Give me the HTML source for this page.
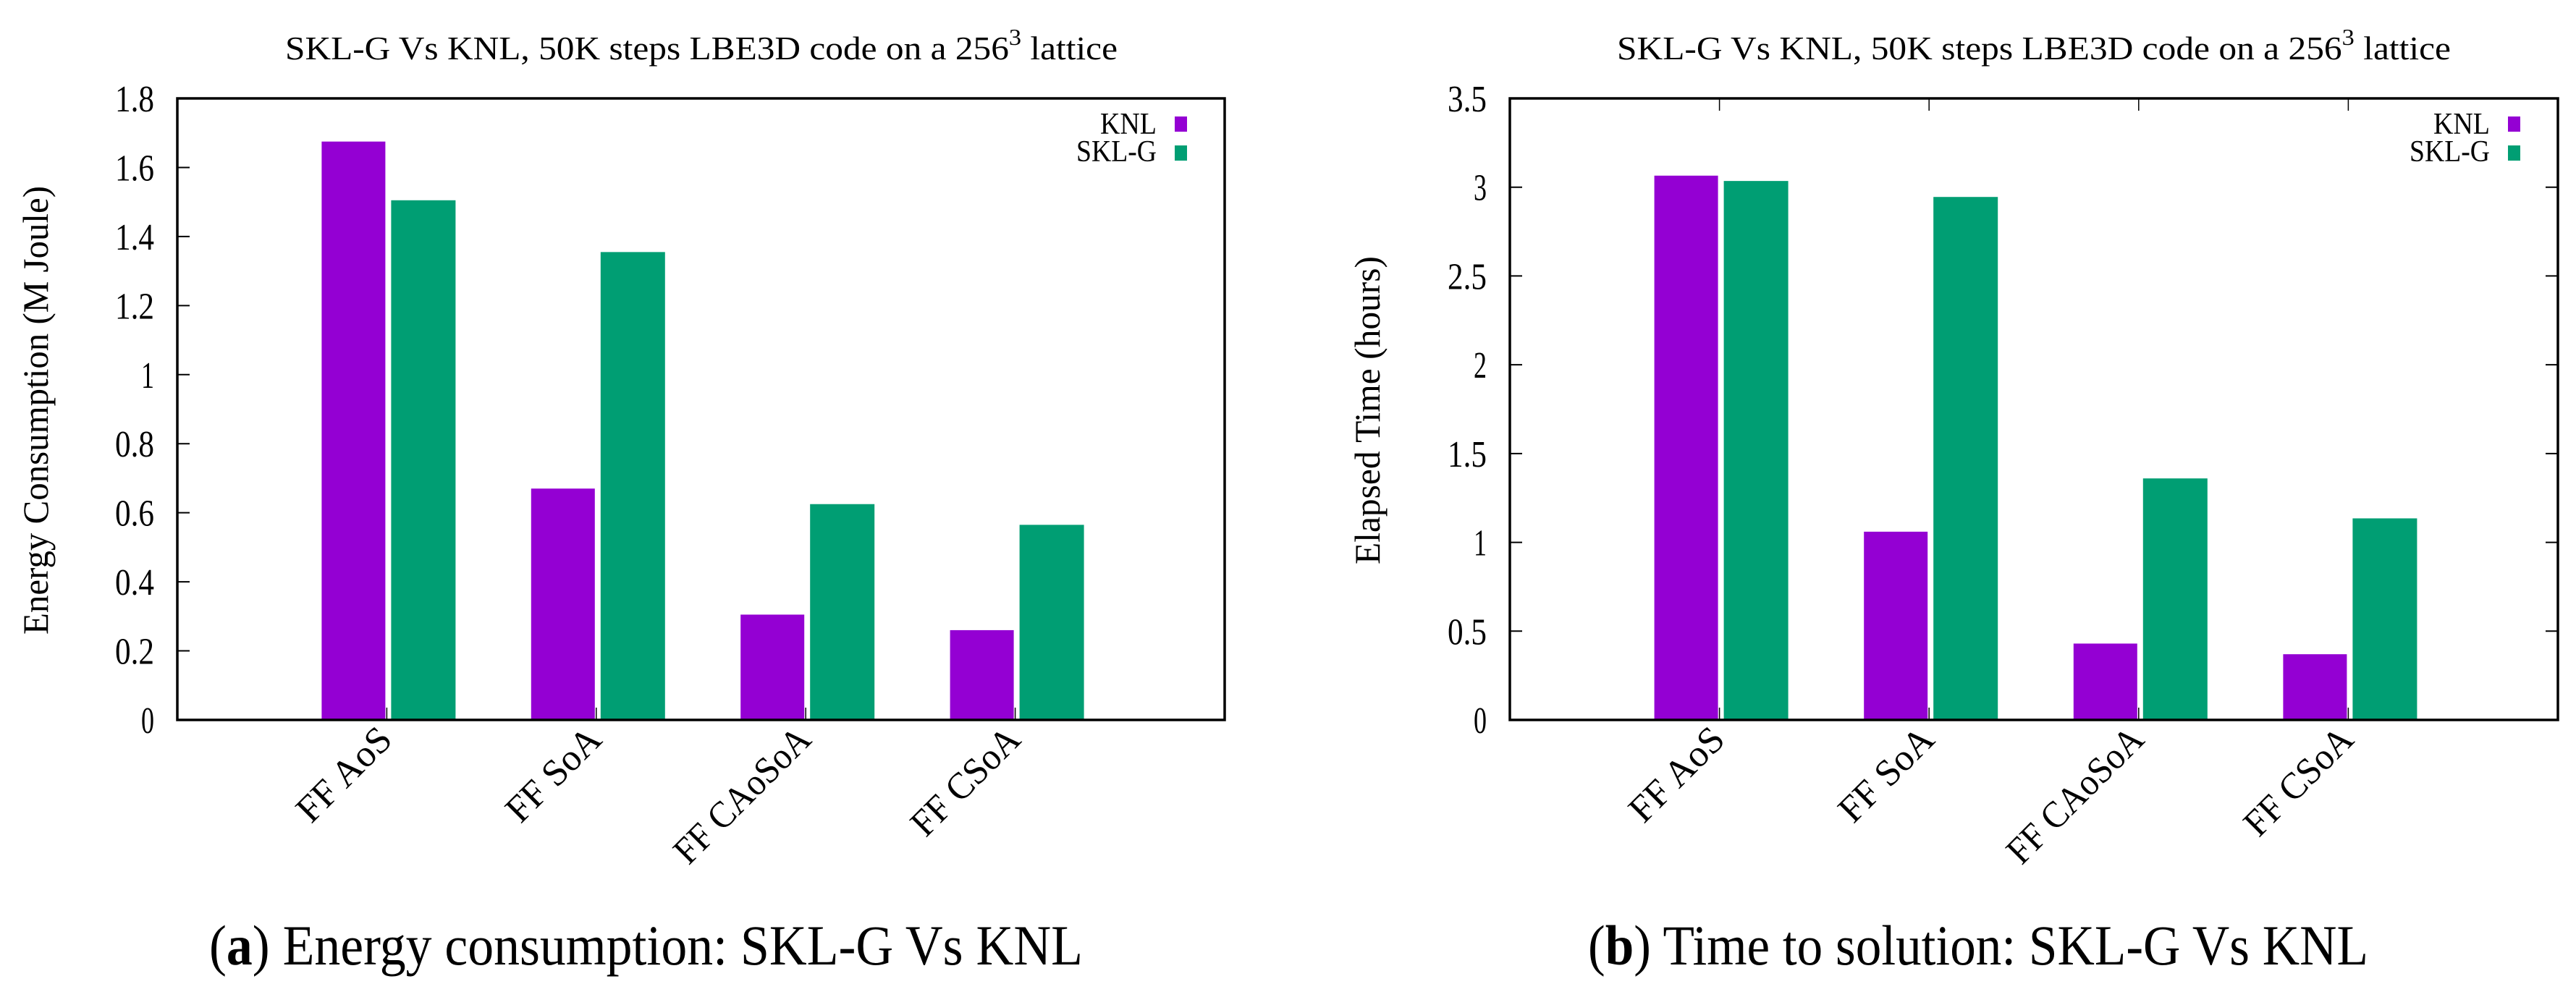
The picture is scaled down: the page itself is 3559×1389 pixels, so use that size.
<!DOCTYPE html>
<html><head><meta charset="utf-8"><style>
html,body{margin:0;padding:0;background:#fff}
svg{display:block}
text{font-family:"Liberation Serif",serif;fill:#000}
</style></head><body>
<svg id="s" width="3559" height="1389" viewBox="0 0 3559 1389"></svg>
<script>
const categories = ["FF AoS","FF SoA","FF CAoSoA","FF CSoA"];
const energyKNL = [1.675, 0.67, 0.305, 0.26];
const energySKL = [1.505, 1.355, 0.625, 0.565];
const timeKNL = [3.065, 1.06, 0.43, 0.37];
const timeSKL = [3.035, 2.945, 1.36, 1.135];
const energyTicks = ["0","0.2","0.4","0.6","0.8","1","1.2","1.4","1.6","1.8"];
const timeTicks = ["0","0.5","1","1.5","2","2.5","3","3.5"];
const seriesNames = ["KNL","SKL-G"];

const NS="http://www.w3.org/2000/svg";
const svg=document.getElementById('s');
function el(tag,attrs,parent,txt){const e=document.createElementNS(NS,tag);for(const k in attrs)e.setAttribute(k,attrs[k]);if(txt!==undefined)e.textContent=txt;(parent||svg).appendChild(e);return e;}

function chart(o){
  const g=el('g',{});
  
  
  const L=o.left,R=o.right,T=136,B=995,W=R-L;
  const ymax=parseFloat(o.ticks[o.ticks.length-1]);
  const y=v=>B-(v/ymax)*(B-T);
  const x=i=>L+W*(i+1)/5;
  const t=el('text',{x:(o.titleX0+o.titleX1)/2,y:82,'font-size':46,'text-anchor':'middle',textLength:o.titleX1-o.titleX0,lengthAdjust:'spacingAndGlyphs'},g);
  
  
  t.innerHTML='SKL-G Vs KNL, 50K steps LBE3D code on a 256<tspan dy="-20" font-size="32">3</tspan><tspan dy="20"> lattice</tspan>';
  for(let i=0;i<categories.length;i++){
    const c=x(i);
    const b1=el('rect',{x:c-90,y:y(o.knl[i]),width:88,height:B-y(o.knl[i]),fill:'#9400d3'},g);
    
    
    const b2=el('rect',{x:c+6,y:y(o.skl[i]),width:89,height:B-y(o.skl[i]),fill:'#009e73'},g);
    
    
    el('line',{x1:c,x2:c,y1:B,y2:B-17,stroke:'#000','stroke-width':1.5},g);
    if(o.mirror) el('line',{x1:c,x2:c,y1:T,y2:T+17,stroke:'#000','stroke-width':1.5},g);
    const lx=c+10,ly=B+30;
    const lab=el('text',{x:lx,y:ly,'font-size':52,'text-anchor':'end',transform:`rotate(-45 ${lx} ${ly})`,textLength:categories[i].length*27,lengthAdjust:'spacingAndGlyphs'},g,categories[i]);
    
    
  }
  o.ticks.forEach(tl=>{
    const v=parseFloat(tl),yy=y(v);
    el('line',{x1:L,x2:L+17,y1:yy,y2:yy,stroke:'#000','stroke-width':2},g);
    if(o.mirror) el('line',{x1:R,x2:R-17,y1:yy,y2:yy,stroke:'#000','stroke-width':2},g);
    const tt=el('text',{x:L-32,y:yy+18,'font-size':52,'text-anchor':'end',textLength:tl.length*18,lengthAdjust:'spacingAndGlyphs'},g,tl);
    
    
  });
  const f=el('rect',{x:L,y:T,width:W,height:B-T,fill:'none',stroke:'#000','stroke-width':3.5},g);
  
  
  const yt=el('text',{x:o.ytX,y:567,'font-size':50,'text-anchor':'middle',transform:`rotate(-90 ${o.ytX} 567)`,textLength:o.ytLen,lengthAdjust:'spacingAndGlyphs'},g,o.ytitle);
  
  
  const colors=['#9400d3','#009e73'];
  seriesNames.forEach((n,k)=>{
    const lg=el('g',{},g);
    
    
    el('text',{x:R-94,y:185+38*k,'font-size':42,'text-anchor':'end',textLength:k?111:78,lengthAdjust:'spacingAndGlyphs'},lg,n);
    el('rect',{x:R-69,y:161+40*k,width:17,height:21,fill:colors[k]},lg);
  });
  const cap=el('text',{x:o.capX0,y:1333,'font-size':78,textLength:o.capX1-o.capX0,lengthAdjust:'spacingAndGlyphs'},g);
  
  
  cap.innerHTML='(<tspan font-weight="bold">'+o.letter+'</tspan>) '+o.caption;
}

chart({name:'energy-chart',left:245,right:1692,knl:energyKNL,skl:energySKL,ticks:energyTicks,mirror:false,
  titleX0:394,titleX1:1544,ytX:66,ytLen:620,ytitle:'Energy Consumption (M Joule)',
  capX0:289,capX1:1496,letter:'a',caption:'Energy consumption: SKL-G Vs KNL'});
chart({name:'time-chart',left:2086,right:3534,knl:timeKNL,skl:timeSKL,ticks:timeTicks,mirror:true,
  titleX0:2234,titleX1:3386,ytX:1906,ytLen:426,ytitle:'Elapsed Time (hours)',
  capX0:2194,capX1:3272,letter:'b',caption:'Time to solution: SKL-G Vs KNL'});
</script>
</body></html>
